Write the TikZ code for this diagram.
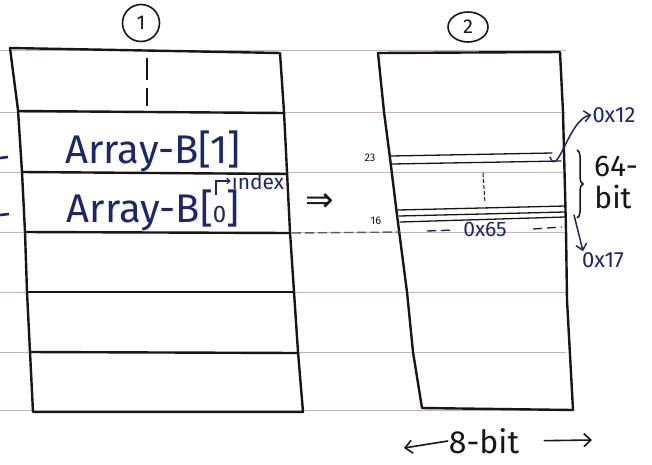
\documentclass[tikz,border=0pt]{standalone}
\usepackage{fontspec}
\setmainfont{Fira Sans}
\newfontfamily\symfam{DejaVu Sans}
\usetikzlibrary{arrows.meta,decorations.pathreplacing,shapes.geometric}
\definecolor{ink}{RGB}{28,38,108}
\definecolor{pen}{RGB}{22,22,22}
\definecolor{rulegray}{RGB}{192,182,182}
\begin{document}
\begin{tikzpicture}[x=1pt,y=-1pt,
  boxline/.style={pen, line width=2.4pt, line join=round, line cap=round},
  thinline/.style={pen, line width=1.3pt, line cap=round},
  ruled/.style={rulegray, line width=0.9pt},
  inktext/.style={text=ink, inner sep=1pt},
  pentext/.style={text=pen, inner sep=1pt},
  inkarrow/.style={ink, line width=1.5pt, line cap=round, -{Straight Barb[length=6pt,width=11pt]}},
  penarrow/.style={pen, line width=1.6pt, line cap=round, -{Straight Barb[length=7pt,width=13pt]}},
  numcirc/.style={draw=pen, line width=1.6pt, inner sep=0pt, text=pen}
]
\useasboundingbox (0,0) rectangle (652,464);
\fill[white] (0,0) rectangle (652,464);

% notebook rules
\foreach \y in {50,112,172,232,292,352,410}
  \draw[ruled] (0,\y) -- (566,\y);

% column numbers
\node[numcirc, circle, minimum size=37pt] (c1) at (141,23) {\fontsize{20}{20}\selectfont 1};
\node[numcirc, ellipse, minimum width=40pt, minimum height=30pt] (c2) at (468,27) {\fontsize{20}{20}\selectfont 2};

% box 1
\draw[boxline] (10,48) -- (18,110) -- (22,172) -- (25,232) -- (27,292) -- (30,352) -- (33,412)
  -- (303,412) -- (298,352) -- (294,292) -- (290,232) -- (287,172) -- (284,112) -- (280,53) -- cycle;
\draw[boxline] (18,111) -- (284,113);
\draw[boxline] (22,172) -- (287,174);
\draw[boxline] (25,232) -- (290,233);
\draw[boxline] (27,292) -- (294,292);
\draw[boxline] (30,352) -- (298,353);
\draw[pen, line width=1.8pt, dash pattern=on 22pt off 8pt] (147,58) -- (147,106);
% marks left of box 1
\draw[ink, line width=2.6pt] (0,158) -- (8,157);
\draw[ink, line width=2.6pt] (0,215) -- (9,214);

% box 2
\draw[boxline] (378,53) -- (384,112) -- (390,158) -- (397,215) -- (407,292) -- (413,352) -- (422,408)
  -- (573,410) -- (567,300) -- (566,230) -- (563,112) -- (560,52) -- cycle;
\draw[thinline] (391,156) -- (552,153);
\draw[thinline] (392,164) -- (561,161);
\draw[thinline] (398,210) -- (565,206);
\draw[thinline] (399,216) -- (565,212);
\draw[thinline] (400,222) -- (565,217);
\draw[pen, line width=1pt, dash pattern=on 4pt off 2pt] (483,173) -- (485,203);
\draw[pen!70, line width=1.4pt, dash pattern=on 9pt off 4pt] (292,233) -- (400,232);
\draw[ink!80!black, line width=1.3pt, dash pattern=on 9pt off 5pt] (427,231) -- (455,230);
\draw[ink!80!black, line width=1.3pt, dash pattern=on 9pt off 5pt] (533,229) -- (562,227);

% texts in box 1
\node[inktext, anchor=base] (a1) at (153,163) {\fontsize{40}{40}\selectfont Array-B[1]};
\node[inktext, anchor=base] (a0) at (153,222) {\fontsize{40}{40}\selectfont Array-B[{\fontsize{24}{24}\selectfont 0}]};
\node[inktext] (idx) at (258,181) {\fontsize{21}{21}\selectfont index};
\coordinate (ia) at (216,195);
\draw[ink, line width=1.2pt, -{Straight Barb[length=3pt,width=6pt]}] (ia) |- (idx.west);

% implies
\node[pentext] (imp) at (320,203) {\symfam\fontsize{34}{34}\selectfont ⇒};

% labels box 2
\node[pentext] (n23) at (370,158) {\fontsize{11}{11}\selectfont 23};
\node[pentext] (n16) at (376,221) {\fontsize{11}{11}\selectfont 16};
\node[inktext] (hex65) at (485,229) {\fontsize{21}{21}\selectfont 0x65};
\node[inktext] (hex12) at (614,115) {\fontsize{22}{22}\selectfont 0x12};
\node[inktext] (hex17) at (603,260) {\fontsize{22}{22}\selectfont 0x17};
\node[pentext] (b64) at (616,166) {\fontsize{30}{30}\selectfont 64-};
\node[pentext] (bbit) at (613,197) {\fontsize{30}{30}\selectfont bit};

% brace and arrows
\draw[pen, line width=1.5pt, decorate, decoration={brace, amplitude=6pt}] (577,150) -- (577,218);
\coordinate (s12) at (550,157);
\draw[inkarrow] (s12) to[out=-70, in=190] (hex12.west);
\coordinate (s17) at (574,215);
\draw[inkarrow] (s17) -- ([xshift=-20pt]hex17.north);

% 8-bit
\node[pentext] (eb) at (484,441) {\fontsize{32}{32}\selectfont 8-bit};
\coordinate (el) at (404,448);
\coordinate (er) at (592,440);
\draw[penarrow] (eb.west) -- (el);
\draw[penarrow, shorten <=24pt] (eb.east) -- (er);
\end{tikzpicture}
\end{document}
